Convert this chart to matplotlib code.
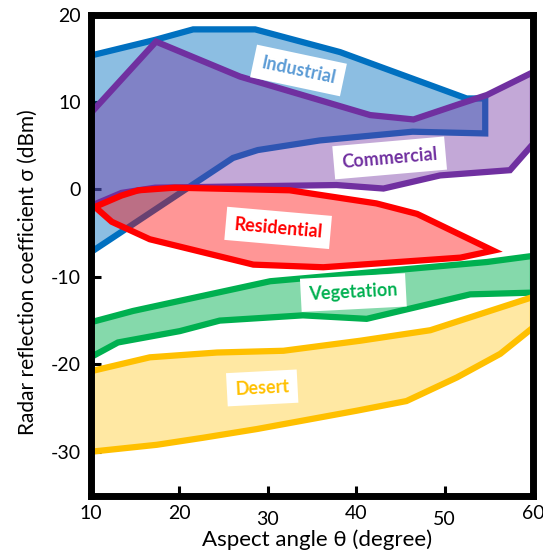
import numpy as np
import matplotlib.pyplot as plt
import matplotlib.transforms as mtransforms

plt.rcParams['font.family'] = ['Lato', 'DejaVu Sans']
plt.rcParams['axes.unicode_minus'] = False

# region outlines: upper edge left->right, lower edge right->left
ind_x_top = [10, 17.3, 21.6, 28.6, 38.2, 52.5, 54.6]
ind_y_top = [15.3, 17.1, 18.3, 18.3, 15.7, 10.4, 10.4]
ind_x_bot = [54.6, 46.4, 35.9, 28.9, 26.1, 10]
ind_y_bot = [6.4, 6.6, 5.6, 4.5, 3.6, -7.2]

com_x_top = [10, 17.4, 26.9, 41.6, 46.5, 51.8, 54.8, 60]
com_y_top = [8.7, 16.9, 12.9, 8.5, 8.0, 9.8, 10.8, 13.4]
com_x_bot = [60, 57.4, 49.5, 43.1, 37.8, 17.3, 13.5, 10]
com_y_bot = [5.2, 2.2, 1.6, 0.1, 0.5, 0.2, -0.4, -1.9]

res_x_top = [10.5, 13.5, 15.4, 19.5, 32.5, 42.3, 46.9, 55.5]
res_y_top = [-2.0, -0.7, -0.1, 0.2, -0.1, -1.6, -2.8, -7.0]
res_x_bot = [51.8, 36.3, 28.4, 16.7, 12.4]
res_y_bot = [-7.8, -8.9, -8.6, -5.7, -3.7]

veg_x_top = [10, 14.8, 30.3, 54.8, 60]
veg_y_top = [-15.2, -13.9, -10.5, -8.3, -7.6]
veg_x_bot = [60, 52.9, 41.2, 34.0, 24.6, 20.1, 13.1, 10]
veg_y_bot = [-11.8, -12.0, -14.8, -14.4, -15.0, -16.2, -17.5, -19.2]

des_x_top = [10, 16.7, 24.3, 31.8, 40.5, 48.4, 60]
des_y_top = [-20.8, -19.2, -18.65, -18.45, -17.3, -16.1, -12.3]
des_x_bot = [60, 56.3, 51.4, 45.7, 40.1, 28.8, 22.7, 17.5, 10]
des_y_bot = [-15.8, -18.8, -21.5, -24.2, -25.3, -27.4, -28.4, -29.2, -30.0]

regions = [
    ('Industrial', ind_x_top, ind_y_top, ind_x_bot, ind_y_bot, '#0070c0', 0.45, '#5b9bd5', (33.5, 13.6), -12),
    ('Commercial', com_x_top, com_y_top, com_x_bot, com_y_bot, '#7030a0', 0.42, '#7030a0', (43.8, 3.6), 5),
    ('Residential', res_x_top, res_y_top, res_x_bot, res_y_bot, '#ff0000', 0.41, '#ff0000', (31.2, -4.4), -5),
    ('Vegetation', veg_x_top, veg_y_top, veg_x_bot, veg_y_bot, '#00b050', 0.48, '#00b050', (39.7, -11.8), 3),
    ('Desert', des_x_top, des_y_top, des_x_bot, des_y_bot, '#ffc000', 0.36, '#ffc000', (29.4, -22.7), 3),
]

fig = plt.figure(figsize=(5.43, 5.58), dpi=100)
ax = fig.add_axes([0.1667, 0.112, 0.8149, 0.862])

for name, xt, yt, xb, yb, col, alpha, tcol, pos, rot in regions:
    xs = list(xt) + list(xb)
    ys = list(yt) + list(yb)
    ax.fill(xs, ys, facecolor=col, alpha=alpha, edgecolor='none', zorder=2)
    ax.fill(xs, ys, facecolor='none', edgecolor=col, linewidth=4.5, zorder=2)

for name, xt, yt, xb, yb, col, alpha, tcol, pos, rot in regions:
    ax.text(pos[0], pos[1], name, color=tcol, fontsize=13, fontweight='bold',
            rotation=rot, ha='center', va='center', zorder=5,
            bbox=dict(boxstyle='square,pad=0.45', facecolor='white', edgecolor='none'))

ax.set_xlim(10, 60)
ax.set_ylim(-35, 20)
ax.set_xticks([10, 20, 30, 40, 50, 60])
ax.set_yticks([-30, -20, -10, 0, 10, 20])
for s in ax.spines.values():
    s.set_linewidth(5)
    s.set_zorder(6)
ax.tick_params(direction='in', length=7, width=2.2, labelsize=14, pad=7)
ax.tick_params(axis='x', top=False)
ax.tick_params(axis='y', right=False)

# 30 and 50 sit a little lower than the other x labels
fig.canvas.draw()
shift = mtransforms.ScaledTranslation(0, -4 / 72, fig.dpi_scale_trans)
for lab in ax.get_xticklabels():
    if lab.get_text() in ('30', '50'):
        lab.set_transform(lab.get_transform() + shift)

ax.set_xlabel('Aspect angle θ (degree)', fontsize=16)
ax.set_ylabel('Radar reflection coefficient σ (dBm)', fontsize=15)
ax.xaxis.set_label_coords(0.512, -0.07)
ax.yaxis.set_label_coords(-0.119, 0.465)

fig.savefig('out.png', dpi=100)
